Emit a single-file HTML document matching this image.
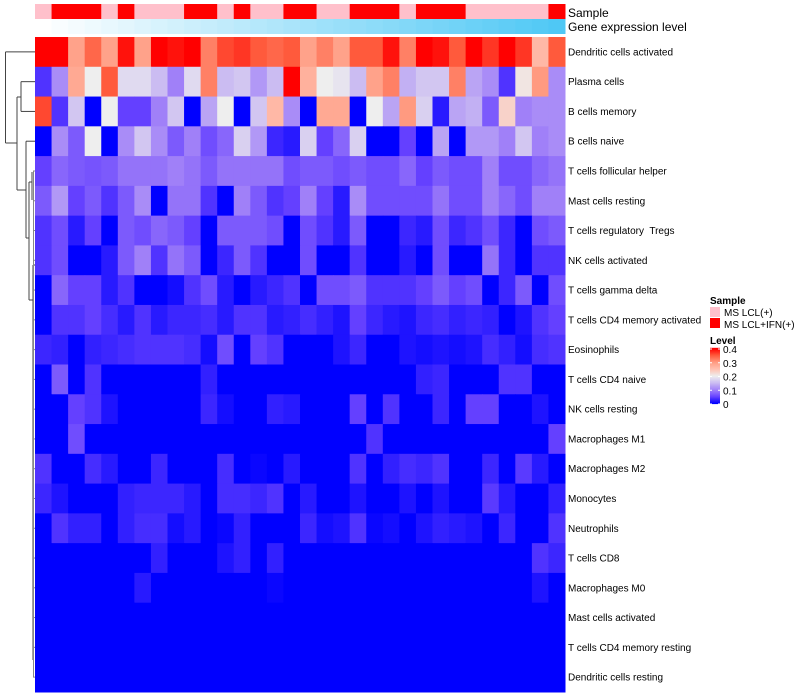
<!DOCTYPE html>
<html><head><meta charset="utf-8"><style>
body{margin:0;background:#fff;}
svg{display:block;font-family:"Liberation Sans",sans-serif;}
text{white-space:pre;}
</style></head><body>
<svg id="chart" width="800" height="700"></svg>
<script>
const rowNames=["Dendritic cells activated","Plasma cells","B cells memory","B cells naive","T cells follicular helper","Mast cells resting","T cells regulatory  Tregs","NK cells activated","T cells gamma delta","T cells CD4 memory activated","Eosinophils","T cells CD4 naive","NK cells resting","Macrophages M1","Macrophages M2","Monocytes","Neutrophils","T cells CD8","Macrophages M0","Mast cells activated","T cells CD4 memory resting","Dendritic cells resting"];
const sampleGroups=["P","R","R","R","P","R","P","P","P","R","R","P","R","P","P","R","R","P","P","R","R","R","P","R","R","R","P","P","P","P","P","R"];
const r0=[0.4,0.4,0.29,0.34,0.29,0.39,0.29,0.4,0.39,0.4,0.32,0.36,0.37,0.35,0.34,0.35,0.29,0.32,0.29,0.35,0.35,0.39,0.32,0.4,0.39,0.35,0.4,0.37,0.4,0.37,0.26,0.35];
const r1=[0.04,0.11,0.28,0.2,0.35,0.18,0.18,0.15,0.1,0.18,0.32,0.15,0.16,0.12,0.15,0.4,0.27,0.2,0.19,0.15,0.29,0.32,0.14,0.16,0.16,0.32,0.13,0.11,0.04,0.21,0.3,0.11];
const r2=[0.36,0.04,0.16,0,0.2,0.05,0.05,0.1,0.16,0,0.13,0.2,0,0.16,0.26,0.11,0,0.28,0.28,0,0.2,0.13,0.3,0.17,0.02,0.13,0.14,0.07,0.23,0.1,0.11,0.11];
const r3=[0,0.11,0.07,0.2,0,0.11,0.16,0.11,0.07,0.1,0.06,0.08,0.17,0.12,0.03,0.02,0.17,0.05,0.08,0.17,0,0,0.05,0,0.13,0,0.12,0.12,0.1,0.16,0.1,0.11];
const r4=[0.05,0.08,0.07,0.065,0.07,0.09,0.09,0.09,0.1,0.09,0.07,0.09,0.09,0.09,0.09,0.06,0.07,0.07,0.06,0.07,0.06,0.06,0.08,0.05,0.07,0.06,0.06,0.1,0.06,0.06,0.08,0.09];
const r5=[0.07,0.12,0.05,0.07,0.04,0.07,0.11,0,0.09,0.09,0.04,0,0.1,0.07,0.04,0.05,0.1,0.05,0.02,0.11,0.06,0.06,0.06,0.06,0.09,0.06,0.06,0.1,0.08,0.06,0.1,0.1];
const r6=[0.04,0.06,0.02,0.05,0,0.07,0.06,0.08,0.07,0.05,0,0.07,0.07,0.07,0.06,0,0.06,0.04,0.02,0.07,0,0,0.03,0.02,0.06,0.03,0.04,0.06,0.03,0,0.06,0.07];
const r7=[0.04,0.06,0,0,0.02,0.07,0.1,0.04,0.09,0.07,0,0.03,0.07,0.04,0,0,0.06,0,0,0.04,0,0,0.02,0,0.06,0,0,0.09,0.03,0,0.04,0.04];
const r8=[0,0.08,0.05,0.05,0.02,0.04,0,0,0.01,0.04,0.06,0.02,0,0.02,0.03,0.04,0,0.06,0.06,0.07,0.04,0.04,0.04,0.05,0.07,0.05,0.06,0,0.03,0.07,0,0.06];
const r9=[0,0.04,0.04,0.05,0.035,0.02,0.04,0.02,0.03,0.03,0.035,0.02,0.04,0.04,0.02,0.025,0.035,0.025,0.015,0.05,0.03,0.02,0.015,0.03,0.035,0.025,0.03,0.025,0,0.015,0.04,0.05];
const r10=[0.03,0.025,0,0.025,0.03,0.035,0.04,0.04,0.04,0.035,0.01,0.06,0,0.05,0.04,0,0,0,0.015,0.03,0,0,0.015,0.01,0.015,0.01,0.015,0.035,0.025,0.01,0.035,0.04];
const r11=[0,0.07,0,0.04,0,0,0,0,0,0,0.025,0,0,0,0,0,0,0,0,0,0,0,0,0.025,0.03,0,0,0,0.04,0.04,0,0];
const r12=[0,0,0.05,0.04,0.015,0,0,0,0,0,0.03,0.01,0,0,0.025,0.02,0,0,0,0.05,0,0.04,0,0,0.03,0,0.05,0.05,0,0,0.015,0];
const r13=[0,0,0.06,0,0,0,0,0,0,0,0,0,0,0,0,0,0,0,0,0,0.04,0,0,0,0,0,0,0,0,0,0,0.05];
const r14=[0.04,0,0,0.035,0.02,0,0,0.03,0,0,0,0.035,0,0.005,0,0.02,0,0,0,0.04,0,0.025,0.035,0.03,0.04,0,0,0.03,0,0.045,0.02,0];
const r15=[0.03,0.015,0,0,0,0.025,0.03,0.03,0.03,0.02,0,0.035,0.035,0.03,0.04,0,0.02,0,0,0.015,0,0,0.015,0,0.015,0,0,0.045,0.02,0,0,0.025];
const r16=[0,0.04,0.025,0.025,0,0.025,0.035,0.035,0.01,0.02,0,0.005,0.025,0,0,0,0.03,0.01,0.015,0.04,0.005,0.01,0,0.015,0.025,0.02,0.015,0,0.03,0,0,0.04];
const r17=[0,0,0,0,0,0,0,0.025,0,0,0,0.015,0.025,0,0.025,0,0,0,0,0,0,0,0,0,0,0,0,0,0,0,0.04,0.03];
const r18=[0,0,0,0,0,0,0.02,0,0,0,0,0,0,0,0.005,0,0,0,0,0,0,0,0,0,0,0,0,0,0,0,0.015,0];
const r19=[0,0,0,0,0,0,0,0,0,0,0,0,0,0,0,0,0,0,0,0,0,0,0,0,0,0,0,0,0,0,0,0];
const r20=[0,0,0,0,0,0,0,0,0,0,0,0,0,0,0,0,0,0,0,0,0,0,0,0,0,0,0,0,0,0,0,0];
const r21=[0,0,0,0,0,0,0,0,0,0,0,0,0,0,0,0,0,0,0,0,0,0,0,0,0,0,0,0,0,0,0,0];
const levels=[r0,r1,r2,r3,r4,r5,r6,r7,r8,r9,r10,r11,r12,r13,r14,r15,r16,r17,r18,r19,r20,r21];
const legendTicks=["0","0.1","0.2","0.3","0.4"];

const NS="http://www.w3.org/2000/svg";
const svg=document.getElementById('chart');
function mk(tag,attrs,parent){const e=document.createElementNS(NS,tag);for(const k in attrs)e.setAttribute(k,attrs[k]);(parent||svg).appendChild(e);return e;}
const X0=35,X1=565,Y0=37,Y1=692;
const nC=r0.length,nR=levels.length;
const cw=(X1-X0)/nC,rh=(Y1-Y0)/nR;
const xPos=c=>X0+c*cw, yPos=r=>Y0+r*rh;
const stops=[[0,[0,0,255]],[0.05,[100,64,255]],[0.1,[160,128,248]],[0.15,[203,188,242]],[0.2,[238,238,238]],[0.25,[255,192,176]],[0.3,[255,154,128]],[0.35,[255,90,60]],[0.4,[255,0,0]]];
function col(v){v=Math.max(0,Math.min(0.4,v));for(let i=0;i<stops.length-1;i++){const [a,ca]=stops[i],[b,cb]=stops[i+1];if(v<=b){const t=(v-a)/(b-a);return 'rgb('+ca.map((x,j)=>Math.round(x+(cb[j]-x)*t)).join(',')+')';}}return 'rgb(255,0,0)';}

for(let c=0;c<nC;c++){
  const e=mk('rect',{x:xPos(c),y:4,width:cw+0.5,height:15,fill:sampleGroups[c]==='R'?'#ff0000':'#ffc0cb'});
  
  
  const t=c/(nC-1);
  const g=mk('rect',{x:xPos(c),y:19,width:cw+0.5,height:15,fill:'rgb('+Math.round(255-176*t)+','+Math.round(255-55*t)+','+Math.round(255-10*t)+')'});
  
  
}
let t1=mk('text',{x:568,y:17,'font-size':12,fill:'#000'});t1.textContent='Sample';

let t2=mk('text',{x:568,y:31,'font-size':12,fill:'#000'});t2.textContent='Gene expression level';


for(let r=0;r<nR;r++){
  for(let c=0;c<nC;c++){
    const e=mk('rect',{x:xPos(c),y:yPos(r),width:cw+0.5,height:rh+0.5,fill:col(levels[r][c])});
    
    
  }
  const l=mk('text',{x:568,y:yPos(r)+rh/2+3.5,'font-size':10,fill:'#000'});
  l.textContent=rowNames[r];
  
  
}

const dg=mk('g',{stroke:'#444','stroke-width':1,fill:'none'});

const yc=r=>yPos(r)+rh/2;
const segs=[[5.5,yc(0),35,yc(0)],[5.5,yc(0),5.5,143],[5.5,143,17,143],[17,97,17,190],[17,97,21,97],[21,yc(1),21,yc(2)],[21,yc(1),35,yc(1)],[21,yc(2),35,yc(2)],[17,190,26,190],[26,yc(3),26,238],[26,yc(3),35,yc(3)],[26,238,29,238],[29,182,29,300],[29,182,32,182],[32,172,32,200],[29,300,33,300],[33,265,33,660],[33,265,35,265]];
segs.forEach(s=>mk('line',{x1:s[0],y1:s[1],x2:s[2],y2:s[3]},dg));
for(let r=4;r<nR;r++){mk('line',{x1:33,y1:yc(r),x2:35,y2:yc(r),stroke:'#888'},dg);}
mk('line',{x1:33.5,y1:yc(4),x2:33.5,y2:yc(21),stroke:'#888'},dg);

const lg=mk('g',{});

let s=mk('text',{x:710,y:304,'font-size':10,'font-weight':'bold'},lg);s.textContent='Sample';
mk('rect',{x:710,y:307,width:10,height:10,fill:'#ffc0cb'},lg);
mk('rect',{x:710,y:318,width:10,height:10,fill:'#ff0000'},lg);
let a=mk('text',{x:724,y:316,'font-size':10},lg);a.textContent='MS LCL(+)';

let b=mk('text',{x:724,y:328,'font-size':10},lg);b.textContent='MS LCL+IFN(+)';

let lv=mk('text',{x:710,y:344,'font-size':10,'font-weight':'bold'},lg);lv.textContent='Level';
const by0=404,by1=349;
for(let i=0;i<55;i++){const v=0.4*i/54;mk('rect',{x:710,y:by0-(by0-by1)*i/54-1.2,width:10,height:1.3,fill:col(v)},lg);}
legendTicks.forEach(tk=>{const v=parseFloat(tk);const y=by0-(by0-by1)*v/0.4;
  mk('line',{x1:710,x2:712,y1:y,y2:y,stroke:'#fff'},lg);mk('line',{x1:718,x2:720,y1:y,y2:y,stroke:'#fff'},lg);
  const t=mk('text',{x:723,y:y+4,'font-size':10},lg);t.textContent=tk;
  });
</script>
</body></html>
